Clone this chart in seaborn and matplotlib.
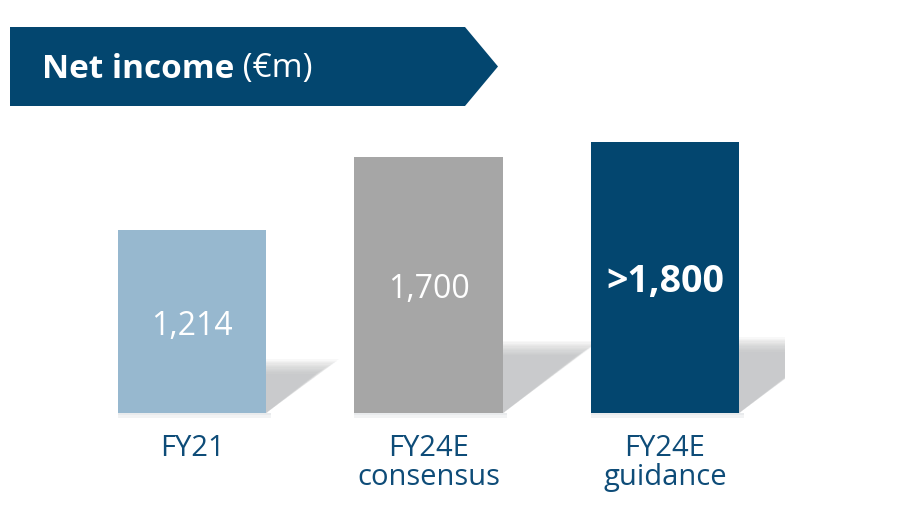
import matplotlib
matplotlib.use('Agg')
import matplotlib.pyplot as plt
from matplotlib.patches import Polygon, Rectangle
import seaborn as sns
import pandas as pd

# --- Data ---
categories = ['FY21', 'FY24E\nconsensus', 'FY24E\nguidance']
values = [1214, 1700, 1800]
value_labels = ['1,214', '1,700', '>1,800']
bar_colors = ['#97b8cf', '#a6a6a6', '#03466f']
title_bold = 'Net income'
title_unit = ' (€m)'

BG = '#f3f6f9'
NAVY = '#03466f'
LABEL = '#0e4c78'

sns.set_theme(style='white')
plt.rcParams['font.family'] = ['Open Sans', 'DejaVu Sans']

df = pd.DataFrame({'cat': categories, 'value': values})

fig = plt.figure(figsize=(9.09, 5.10), dpi=100, facecolor='white')
ax = fig.add_axes([10 / 909, 0, 898 / 909, 507 / 510])
ax.set_facecolor(BG)

sns.barplot(data=df, x='cat', y='value', hue='cat', palette=bar_colors,
            width=0.626, legend=False, saturation=1, linewidth=0, ax=ax, zorder=3)

ax.set_xlim(-0.7696, 3.0275)
ax.set_ylim(-637, 2727)
ax.axis('off')
ax.patch.set_visible(True)

# pixel -> data helpers (for the soft shadow only)
px_x = (3.0275 + 0.7696) / 898
px_y = (2727 + 637) / 507

# --- Soft shadows to the right of each bar ---
clip = Rectangle((-1, -1000), 3.507, 5000, transform=ax.transData)
for bar in ax.patches[:len(values)]:
    xr = bar.get_x() + bar.get_width()
    h = bar.get_height()
    hs = 0.25 * h
    ws = 0.33 * h * 0.1507 / 236.5
    n = 12
    for i in range(n):
        d = (i - n / 2) * 1.3  # px offset, grow -> shrink
        top = hs - d * px_y
        right = xr + ws - d * 1.6 * px_x
        tri = Polygon([(xr, 0), (xr, top), (right, top)],
                      closed=True, facecolor='#b3b5b8', edgecolor='none',
                      alpha=0.085, zorder=2)
        ax.add_patch(tri)
        tri.set_clip_path(clip)
    # faint shadow under bar
    for k, a in enumerate([0.5, 0.3]):
        ax.add_patch(Rectangle((bar.get_x(), -(k + 1) * 2.5 * px_y),
                               bar.get_width() + 0.02, 2.5 * px_y,
                               facecolor='#d5d8dc', alpha=a, edgecolor='none',
                               zorder=1))

# --- Value labels ---
for i, (v, lab) in enumerate(zip(values, value_labels)):
    bold = lab.startswith('>')
    ax.text(i, v / 2 - 4 * px_y, lab, ha='center', va='center', color='white',
            fontsize=27 if bold else 23, fontweight='bold' if bold else 'normal',
            zorder=5)

# --- Category labels ---
for i, c in enumerate(categories):
    ax.text(i, -130, c, ha='center', va='top', color=LABEL, fontsize=21,
            linespacing=1.0)

# --- Title banner ---
banner = Polygon([(10 / 909, 1 - 28 / 510), (465 / 909, 1 - 28 / 510),
                  (498 / 909, 1 - 67.5 / 510), (465 / 909, 1 - 107 / 510),
                  (10 / 909, 1 - 107 / 510)], closed=True,
                 transform=fig.transFigure, facecolor=NAVY, edgecolor='none',
                 clip_on=False, zorder=6)
ax.add_patch(banner)
t1 = fig.text(42 / 909, 1 - 69 / 510, title_bold, color='white', fontsize=24,
              fontweight='bold', va='center', ha='left', zorder=7)
ax.annotate(title_unit, xy=(1, 0), xycoords=t1, va='bottom', ha='left',
            color='white', fontsize=24, zorder=7, annotation_clip=False)

fig.savefig('out.png', dpi=100, facecolor='white')
